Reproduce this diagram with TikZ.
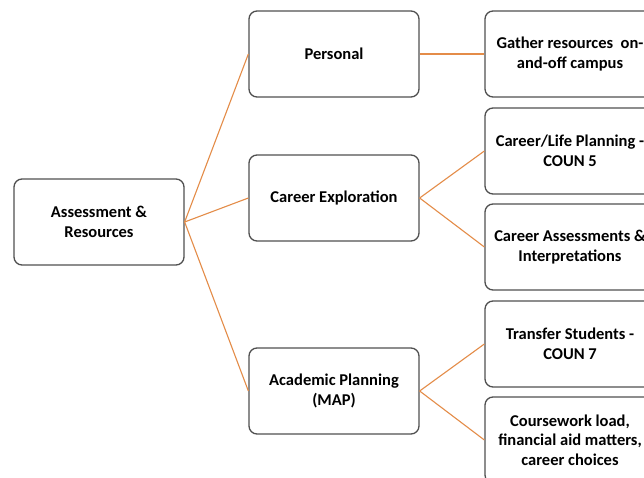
\documentclass[tikz,border=0pt]{standalone}
\usepackage{fontspec}
\setmainfont{Carlito}
\definecolor{boxline}{RGB}{80,80,80}
\definecolor{conn}{RGB}{228,140,72}
\begin{document}
\begin{tikzpicture}[x=1pt,y=-1pt,
  box/.style={draw=boxline,line width=1.3pt,rounded corners=8pt,minimum width=170pt,minimum height=86pt,align=center,font=\bfseries\fontsize{16.5}{19.5}\selectfont,inner sep=2pt},
  link/.style={draw=conn,line width=1.1pt}]
\useasboundingbox (0,0) rectangle (644,478);
\clip (0,0) rectangle (644,478);
\fill[white] (0,0) rectangle (644,478);
\node[box] (root) at (99,222) {Assessment \&\\Resources};
\node[box] (pers) at (334,54) {Personal};
\node[box] (carex) at (334,198) {Career Exploration};
\node[box] (acad) at (334,391) {Academic Planning\\(MAP)};
\node[box] (gather) at (570,54) {Gather resources~ on-\\and-off campus};
\node[box] (life) at (570,151) {Career/Life Planning -\\COUN 5};
\node[box] (assess) at (570,247) {Career Assessments \&\\Interpretations};
\node[box] (transfer) at (570,344) {Transfer Students -\\COUN 7};
\node[box] (course) at (570,440) {Coursework load,\\financial aid matters,\\career choices};
\draw[link] (root.east) -- (pers.west);
\draw[link] (root.east) -- (carex.west);
\draw[link] (root.east) -- (acad.west);
\draw[link] (pers.east) -- (gather.west);
\draw[link] (carex.east) -- (life.west);
\draw[link] (carex.east) -- (assess.west);
\draw[link] (acad.east) -- (transfer.west);
\draw[link] (acad.east) -- (course.west);
\end{tikzpicture}
\end{document}
